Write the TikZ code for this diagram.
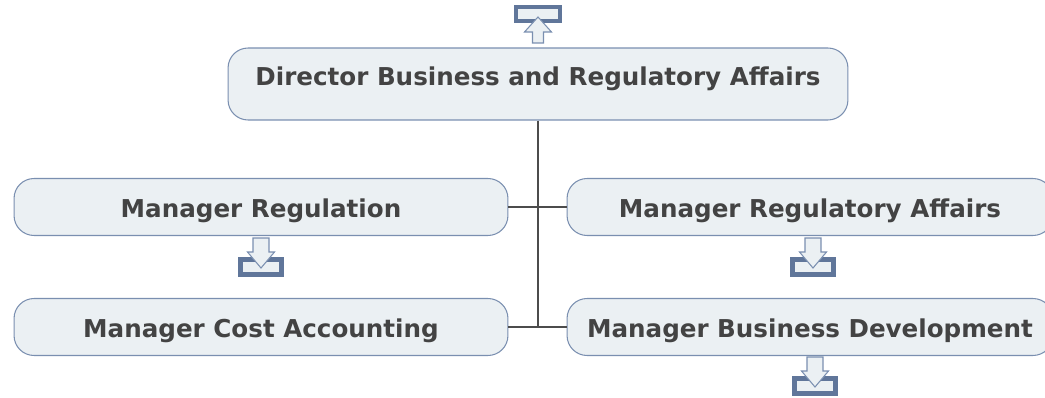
\documentclass[tikz,border=0pt]{standalone}
\usepackage{fontspec}
\setmainfont{DejaVu Sans}
\usetikzlibrary{positioning}
\definecolor{boxfill}{HTML}{EBF0F3}
\definecolor{boxline}{HTML}{7A8FB0}
\definecolor{iconline}{HTML}{60769A}
\definecolor{textgray}{HTML}{434343}

\begin{document}
\begin{tikzpicture}[
    x=0.02cm, y=-0.02cm,
    every node/.style={font=\bfseries\fontsize{14}{17}\selectfont, text=textgray},
    role/.style={rectangle, rounded corners=0.4cm, draw=boxline, fill=boxfill,
                 line width=0.6pt, minimum width=9.88cm, minimum height=1.14cm, inner sep=0pt,
                 text height=0.54cm, text depth=0.12cm},
    rolewide/.style={role, minimum width=9.72cm},
    head/.style={role, minimum width=12.4cm, minimum height=1.44cm, text depth=0.46cm},
    link/.style={draw=black!70, line width=0.6pt},
    frame/.style={draw=iconline, fill=boxfill, line width=2.3pt},
    blockarrow/.style={draw=boxline, fill=boxfill, line width=0.6pt},
    pics/downdoc/.style={code={
      \path[frame] (-20.5,-7.5) rectangle (20.5,7.5);
      \path[blockarrow] (-8,-29) -- (8,-29) -- (8,-15) -- (13.5,-15) -- (0,1)
        -- (-13.5,-15) -- (-8,-15) -- cycle;
    }},
    pics/updoc/.style={code={
      \path[frame] (-22,-7) rectangle (22,7);
      \path[blockarrow] (-5.5,29) -- (5.5,29) -- (5.5,18) -- (13.5,18) -- (0,3)
        -- (-13.5,18) -- (-5.5,18) -- cycle;
    }},
  ]
  \clip (0,0) rectangle (1045,398);

  % boxes
  \node[head] (dir) at (538,84)  {Director Business and Regulatory Affairs};
  \node[role] (reg) at (261,207) {Manager Regulation};
  \node[rolewide] (ra) at (810,207) {Manager Regulatory Affairs};
  \node[role] (ca)  at (261,327) {Manager Cost Accounting};
  \node[rolewide] (bd) at (810,327) {Manager Business Development};

  % connectors
  \coordinate (trunk) at (538,327);
  \draw[link] (dir.south) -- (trunk);
  \draw[link] (reg.east) -- (ra.west);
  \draw[link] (ca.east) -- (bd.west);

  % document icons
  \pic at (538,14)  {updoc};
  \pic at (261,267) {downdoc};
  \pic at (813,267) {downdoc};
  \pic at (815,386) {downdoc};
\end{tikzpicture}
\end{document}
